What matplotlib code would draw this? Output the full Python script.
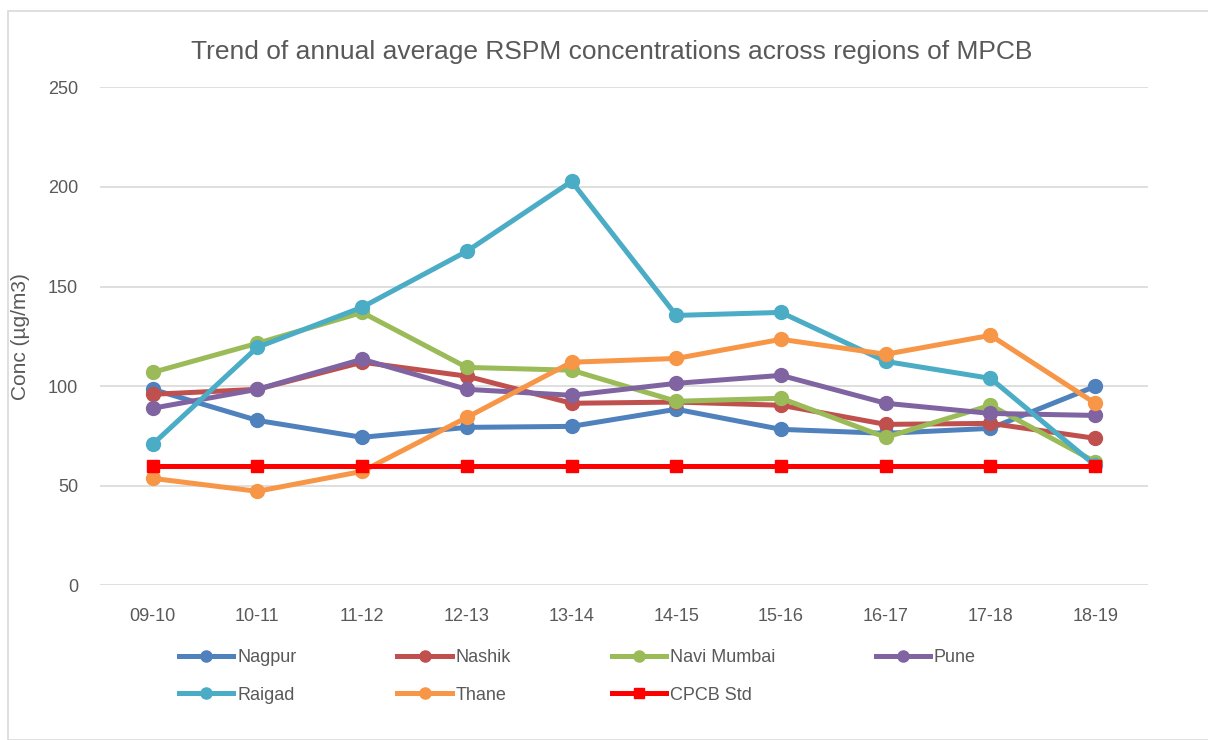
import matplotlib.pyplot as plt
from matplotlib.patches import Rectangle

plt.rcParams['font.family'] = ['Liberation Sans Narrow', 'Liberation Sans', 'DejaVu Sans']

years = ['09-10', '10-11', '11-12', '12-13', '13-14', '14-15', '15-16', '16-17', '17-18', '18-19']
nagpur = [98.4, 82.8, 74.3, 79.3, 79.8, 88.4, 78.3, 76.3, 78.8, 99.9]
nashik = [95.9, 98.4, 112.0, 105.0, 91.4, 92.0, 90.4, 80.8, 81.3, 73.8]
navi_mumbai = [106.9, 121.5, 137.0, 109.4, 108.0, 92.4, 93.9, 74.3, 90.4, 62.0]
pune = [88.9, 98.4, 113.5, 98.4, 95.4, 101.4, 105.4, 91.4, 86.3, 85.3]
raigad = [70.8, 119.5, 139.6, 167.7, 202.8, 135.5, 137.0, 112.4, 103.9, 60.2]
thane = [53.7, 47.2, 57.2, 84.3, 112.0, 113.9, 123.5, 116.0, 125.5, 91.4]
cpcb_std = [60] * 10

series = [
    ('Nagpur', nagpur, '#4F81BD'),
    ('Nashik', nashik, '#C0504D'),
    ('Navi Mumbai', navi_mumbai, '#9BBB59'),
    ('Pune', pune, '#8064A2'),
    ('Raigad', raigad, '#4BACC6'),
    ('Thane', thane, '#F79646'),
]

fig = plt.figure(figsize=(12.08, 7.4), dpi=100)
ax = fig.add_axes([0.083, 0.209, 0.867, 0.673])

x = range(len(years))
handles = {}
for name, vals, col in series:
    h, = ax.plot(x, vals, color=col, lw=3.6, marker='o', markersize=10,
                 label=name, solid_joinstyle='round')
    handles[name] = h
h, = ax.plot(x, cpcb_std, color='#FF0000', lw=3.6, marker='s', markersize=9,
             label='CPCB Std')
handles['CPCB Std'] = h

ax.set_xlim(-0.5, len(years) - 0.5)
ax.set_ylim(0, 250)
ax.set_yticks(range(0, 251, 50))
ax.set_xticks(list(x))
ax.set_xticklabels(years)
ax.grid(axis='y', color='#d9d9d9', lw=1.2)
ax.set_axisbelow(True)
for s in ax.spines.values():
    s.set_visible(False)
ax.tick_params(length=0, labelsize=13, colors='#595959')
ax.tick_params(axis='x', pad=16)
ax.tick_params(axis='y', pad=16)
ax.set_ylabel('Conc (µg/m3)', fontsize=15, color='#595959')
ax.yaxis.set_label_coords(-0.067, 0.5)

fig.text(0.506, 0.93, 'Trend of annual average RSPM concentrations across regions of MPCB',
         ha='center', va='center', fontsize=19, color='#595959')

order = ['Nagpur', 'Raigad', 'Nashik', 'Thane', 'Navi Mumbai', 'CPCB Std', 'Pune']
fig.legend([handles[k] for k in order], order, ncol=4, frameon=False,
           loc='upper left', bbox_to_anchor=(0.135, 0.145), fontsize=13,
           labelcolor='#595959', handlelength=3.0, handletextpad=0.2,
           columnspacing=5.6, labelspacing=1.15, markerscale=0.8)

fig.add_artist(Rectangle((0.007, 0.0), 0.995, 0.985, transform=fig.transFigure,
                         fill=False, edgecolor='#d9d9d9', lw=1.2))

fig.savefig('out.png', dpi=100, facecolor='white')
